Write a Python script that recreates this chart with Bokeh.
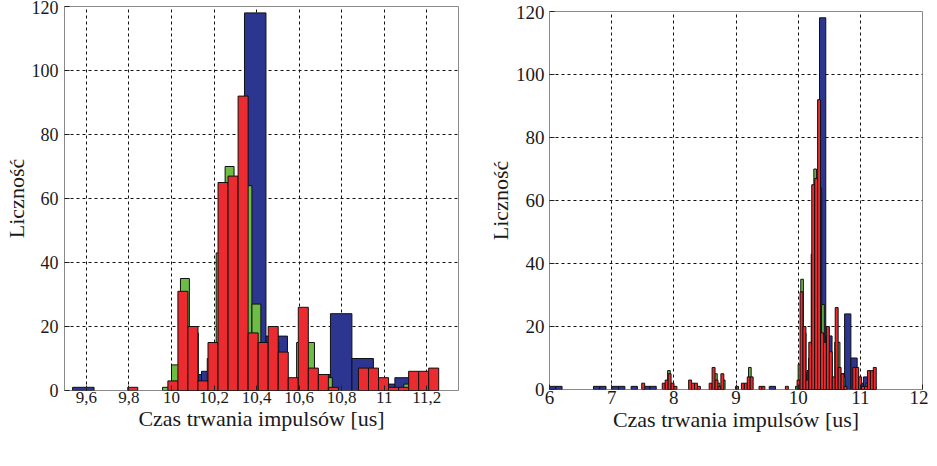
from bokeh.plotting import figure
from bokeh.layouts import row, column
from bokeh.models import FixedTicker, Range1d, Spacer
from bokeh.embed import file_html
from bokeh.resources import INLINE

# ---- histogram data (bin start, bin width, counts) ----
blue_start = 6.0
blue_width = 0.101
blue_counts = [1, 1, 0, 0, 0, 0, 0, 1, 1, 0,
               1, 1, 0, 1, 0, 1, 1, 0, 0, 0,
               0, 0, 0, 0, 0, 0, 0, 0, 0, 0,
               0, 0, 0, 0, 0, 1, 0, 0, 0, 0,
               5, 6, 30, 118, 17, 3, 5, 24, 10, 2,
               4, 1]

green_start = 7.9
green_width = 0.042
green_counts = [6, 1, 0, 0, 0, 0, 0, 0, 0, 0,
                0, 0, 0, 0, 0, 0, 0, 0, 5, 2,
                1, 3, 0, 0, 0, 0, 0, 0, 0, 0,
                0, 7, 0, 0, 0, 0, 0, 0, 0, 0,
                0, 0, 0, 0, 0, 0, 0, 0, 0, 1,
                8, 35, 18, 2, 10, 43, 70, 62, 64, 27,
                12, 15, 10, 3, 15, 15, 3, 4, 0, 0,
                0, 0, 0, 0, 0, 0, 2, 3, 4, 0]

red_start = 7.484
red_width = 0.04715
red_counts = [2, 0, 0, 0, 0, 0, 0, 2, 3, 5,
              2, 1, 0, 0, 0, 0, 3, 2, 2, 1,
              0, 0, 0, 2, 7, 3, 1, 5, 0, 0,
              0, 0, 1, 0, 2, 2, 4, 4, 0, 0,
              1, 1, 0, 0, 0, 0, 0, 0, 0, 1,
              0, 0, 0, 3, 31, 20, 3, 15, 65, 67,
              92, 18, 15, 20, 12, 4, 26, 7, 5, 1,
              0, 0, 7, 7, 4, 1, 1, 6, 6, 7]

# ---- axes / ticks ----
left_xticks = [9.6, 9.8, 10.0, 10.2, 10.4, 10.6, 10.8, 11.0, 11.2]
left_xlabels = ["9,6", "9,8", "10", "10,2", "10,4", "10,6", "10,8", "11", "11,2"]
right_xticks = [6, 7, 8, 9, 10, 11, 12]
right_xlabels = ["6", "7", "8", "9", "10", "11", "12"]
yticks = [0, 20, 40, 60, 80, 100, 120]
left_xrange = (9.497, 11.349)
right_xrange = (6.0, 12.0)
yrange = (0, 120)
xlabel = "Czas trwania impulsów [us]"
ylabel = "Liczność"

BLUE = "#2c3690"
GREEN = "#6dbd45"
RED = "#ec2b30"
FONT = "Liberation Serif"


def add_hist(p, start, width, counts, color):
    idx = [i for i, c in enumerate(counts) if c > 0]
    p.quad(left=[start + i * width for i in idx],
           right=[start + (i + 1) * width for i in idx],
           bottom=0, top=[counts[i] for i in idx],
           fill_color=color, line_color="#111111", line_width=1)


def make(xr, xticks, xlabels, fw, fh, bl, br, bt, bb, xfs, yfs, ystand, xstand, lstand):
    p = figure(frame_width=fw, frame_height=fh, output_backend="svg",
               toolbar_location=None,
               x_range=Range1d(*xr), y_range=Range1d(*yrange),
               min_border_left=bl, min_border_right=br,
               min_border_top=bt, min_border_bottom=bb)
    add_hist(p, blue_start, blue_width, blue_counts, BLUE)
    add_hist(p, green_start, green_width, green_counts, GREEN)
    add_hist(p, red_start, red_width, red_counts, RED)

    p.xaxis.ticker = FixedTicker(ticks=xticks)
    p.xaxis.major_label_overrides = dict(zip(xticks, xlabels))
    p.yaxis.ticker = FixedTicker(ticks=yticks)
    p.xaxis.minor_tick_line_color = None
    p.yaxis.minor_tick_line_color = None
    for ax in (p.xaxis[0], p.yaxis[0]):
        ax.axis_line_color = None
        ax.major_tick_in = 5
        ax.major_tick_out = 0
        ax.major_tick_line_color = "#222222"
        ax.major_label_text_font = FONT
        ax.major_label_text_color = "#1a1a1a"
        ax.axis_label_text_font = FONT
        ax.axis_label_text_font_style = "normal"
        ax.axis_label_text_font_size = "22px"
        ax.axis_label_text_color = "#1a1a1a"
    p.xaxis.major_label_text_font_size = xfs
    p.yaxis.major_label_text_font_size = yfs
    p.xaxis.major_label_standoff = xstand
    p.yaxis.major_label_standoff = ystand
    p.xaxis.axis_label_standoff = lstand
    p.yaxis.axis_label_standoff = 0
    p.xaxis.axis_label = xlabel
    p.yaxis.axis_label = ylabel

    p.grid.grid_line_color = "#111111"
    p.grid.grid_line_dash = "3 3"
    p.grid.grid_line_width = 1
    p.outline_line_color = "#8a8a8a"
    p.outline_line_width = 1
    p.background_fill_color = "white"
    p.border_fill_color = "white"
    return p


p1 = make(left_xrange, left_xticks, left_xlabels, 394, 384, 57, 16, 6, 50,
          "17px", "18px", 6, 1, 0)
p2 = make(right_xrange, right_xticks, right_xlabels, 373, 378, 75, 6, 6, 50,
          "19px", "19px", 5, 1, 0)

layout = row(p1, column(Spacer(width=10, height=5), p2))
open("out.html", "w").write(file_html(layout, INLINE))
